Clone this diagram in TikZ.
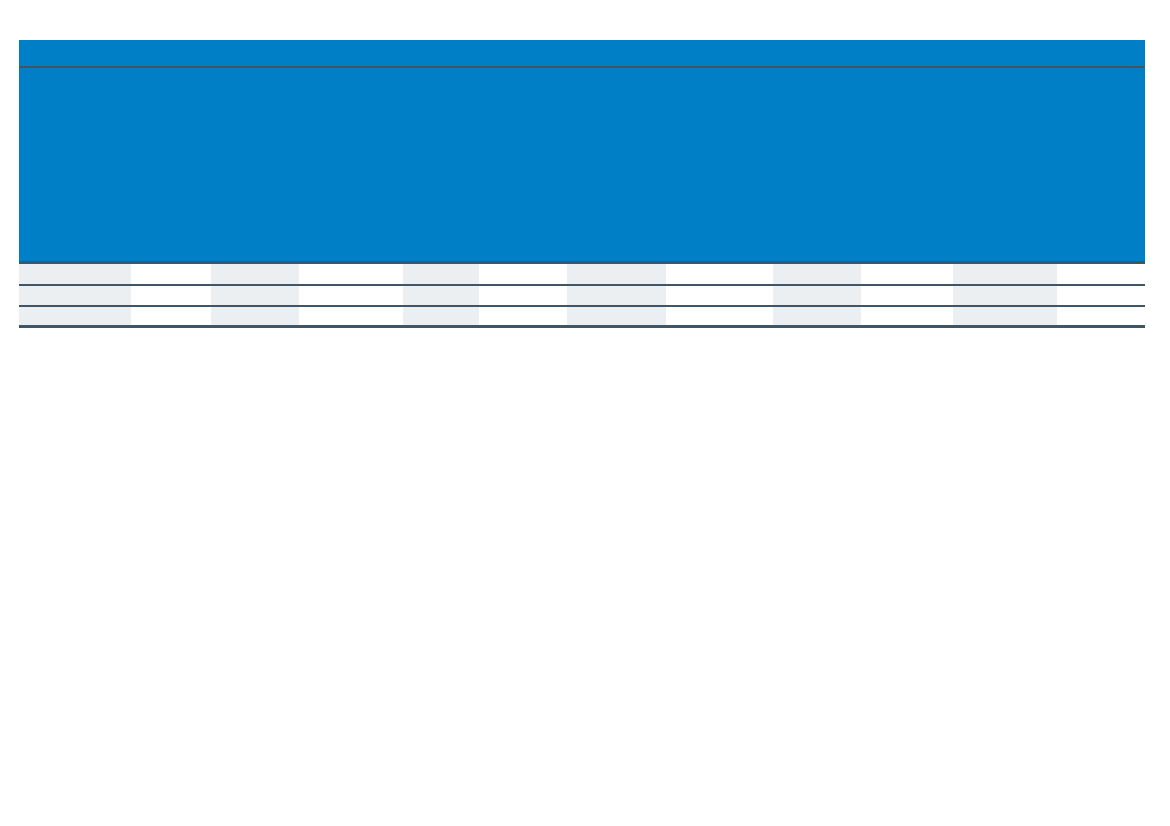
\documentclass[tikz,border=0pt]{standalone}
\definecolor{headblue}{HTML}{007EC6}
\definecolor{rulegray}{HTML}{3F5669}
\definecolor{bandgray}{HTML}{ECEFF2}
\begin{document}
\begin{tikzpicture}[x={1pt},y={-1pt}]
\useasboundingbox[fill=white](0,0) rectangle (1170,826);
\fill[headblue](19,40) rectangle (1145,263);
\foreach \xa/\xb in {19/131,211/299,403/479,567/666,773/861,953/1057}{\fill[bandgray](\xa,264) rectangle (\xb,327);}
\draw[rulegray,line width=2.8pt](19,67)--(1145,67);
\draw[rulegray,line width=3pt](19,263)--(1145,263);
\foreach \y in {285,306}{\draw[rulegray,line width=2.6pt](19,\y)--(1145,\y);}
\draw[rulegray,line width=3pt](19,327)--(1145,327);
\end{tikzpicture}
\end{document}
